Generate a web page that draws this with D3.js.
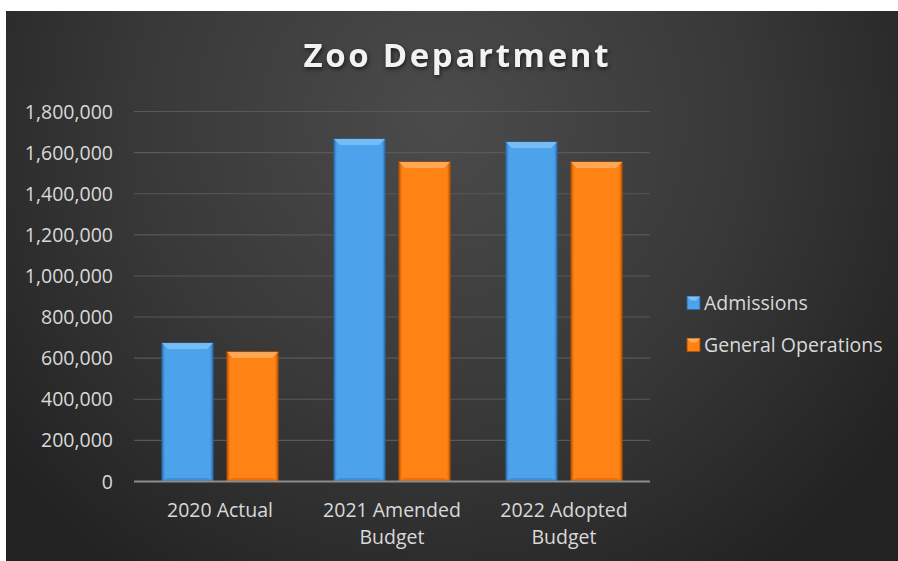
<!DOCTYPE html>
<html>
<head>
<meta charset="utf-8">
<script src="https://cdn.jsdelivr.net/npm/d3@7"></script>
<style>
  html, body { margin: 0; padding: 0; background: #ffffff; }
  svg { display: block; }
</style>
</head>
<body>
<svg id="chart" width="898" height="561"></svg>
<script>
// Budget figures by year and funding line
const categories = [["2020 Actual"], ["2021 Amended", "Budget"], ["2022 Adopted", "Budget"]];
const seriesNames = ["Admissions", "General Operations"];
const admissions = [671000, 1664000, 1649000];
const generalOperations = [628000, 1552000, 1552000];
const yTicks = [0, 200000, 400000, 600000, 800000, 1000000, 1200000, 1400000, 1600000, 1800000];

const W = 898, H = 561;
const svg = d3.select("#chart");
const defs = svg.append("defs");
const FONT = "'Open Sans', sans-serif";

// dark panel with a soft radial glow
const bg = defs.append("radialGradient").attr("id", "bg")
  .attr("gradientUnits", "userSpaceOnUse")
  .attr("cx", 440).attr("cy", 120).attr("r", 560);
bg.append("stop").attr("offset", 0).attr("stop-color", "#4b4b4b");
bg.append("stop").attr("offset", 0.55).attr("stop-color", "#383838");
bg.append("stop").attr("offset", 1).attr("stop-color", "#222222");
svg.append("rect").attr("x", 6).attr("y", 11).attr("width", W - 6).attr("height", H - 11)
  .attr("fill", "url(#bg)");

// bar fills: horizontal shading for a bevelled look
const palettes = [
  { id: "blue", edge: "#2f78bd", mid: "#4da2ec", light: "#7cc0f6", dark: "#2a6aa8" },
  { id: "orange", edge: "#c45a06", mid: "#ff8214", light: "#ffab5c", dark: "#b95200" }
];
palettes.forEach(p => {
  const g = defs.append("linearGradient").attr("id", "fill-" + p.id)
    .attr("x1", 0).attr("x2", 1).attr("y1", 0).attr("y2", 0);
  g.append("stop").attr("offset", 0).attr("stop-color", p.edge);
  g.append("stop").attr("offset", 0.06).attr("stop-color", p.mid);
  g.append("stop").attr("offset", 0.94).attr("stop-color", p.mid);
  g.append("stop").attr("offset", 1).attr("stop-color", p.edge);
});

const plotLeft = 134, plotRight = 650, plotTop = 111, plotBottom = 481;

const x0 = d3.scaleBand().domain(d3.range(categories.length))
  .range([plotLeft, plotRight]).paddingInner(0).paddingOuter(0);
const x1 = d3.scaleBand().domain(d3.range(seriesNames.length))
  .range([0, x0.bandwidth()]).paddingInner(0.215).paddingOuter(0.43);
const y = d3.scaleLinear().domain([0, 1800000]).range([plotBottom, plotTop]);

// gridlines
const grid = svg.append("g").attr("class", "grid")
  .attr("transform", `translate(${plotLeft},0)`)
  .call(d3.axisLeft(y).tickValues(yTicks.slice(1)).tickSize(-(plotRight - plotLeft)).tickFormat(""));
grid.select(".domain").remove();
grid.selectAll("line").attr("stroke", "#595959").attr("stroke-width", 1.1);

// y-axis labels
const yAxis = svg.append("g").attr("transform", `translate(113,0)`)
  .call(d3.axisLeft(y).tickValues(yTicks).tickSize(0).tickPadding(0).tickFormat(d3.format(",")));
yAxis.select(".domain").remove();
yAxis.selectAll("text").attr("fill", "#d9d9d9").attr("font-family", FONT)
  .attr("font-size", "19.5px").attr("dy", "0.36em");

// bars
const series = [admissions, generalOperations];
const barG = svg.append("g");
series.forEach((vals, si) => {
  const p = palettes[si];
  vals.forEach((v, ci) => {
    const bx = x0(ci) + x1(si), bw = x1.bandwidth();
    const by = y(v), bh = y(0) - y(v);
    const g = barG.append("g");
    g.append("rect").attr("x", bx).attr("y", by).attr("width", bw).attr("height", bh)
      .attr("fill", `url(#fill-${p.id})`).attr("stroke", p.dark).attr("stroke-width", 1);
    // lighter top bevel
    const b = 6;
    g.append("path")
      .attr("d", `M${bx},${by} L${bx + bw},${by} L${bx + bw - b},${by + b} L${bx + b},${by + b} Z`)
      .attr("fill", p.light).attr("opacity", 0.9);
    // shaded bottom bevel
    g.append("path")
      .attr("d", `M${bx},${by + bh} L${bx + bw},${by + bh} L${bx + bw - b},${by + bh - 3} L${bx + b},${by + bh - 3} Z`)
      .attr("fill", p.dark).attr("opacity", 0.35);
  });
});

// baseline
svg.append("line").attr("x1", plotLeft).attr("x2", plotRight)
  .attr("y1", y(0) + 0.5).attr("y2", y(0) + 0.5)
  .attr("stroke", "#8c8c8c").attr("stroke-width", 2.2);

// category labels
const catG = svg.append("g");
categories.forEach((lines, ci) => {
  const t = catG.append("text").attr("x", x0(ci) + x0.bandwidth() / 2).attr("y", 517)
    .attr("text-anchor", "middle").attr("fill", "#d9d9d9")
    .attr("font-family", FONT).attr("font-size", "19.5px");
  lines.forEach((ln, li) => {
    t.append("tspan").attr("x", x0(ci) + x0.bandwidth() / 2).attr("dy", li === 0 ? 0 : 27).text(ln);
  });
});

// title
const title = svg.append("text").attr("x", 456).attr("y", 67)
  .attr("text-anchor", "middle").attr("fill", "#f2f2f2")
  .attr("font-family", FONT).attr("font-weight", 700).attr("font-size", "33px")
  .attr("style", "filter: drop-shadow(1px 2px 2px rgba(0,0,0,0.6))")
  .text("Zoo Department");
const natural = title.node().getComputedTextLength();
const nChars = "Zoo Department".length;
const spacing = Math.max(0, (305 - natural) / (nChars - 1));
title.attr("letter-spacing", spacing + "px").attr("x", 456 + spacing / 2);

// legend
const legend = svg.append("g");
seriesNames.forEach((name, i) => {
  const p = palettes[i];
  const ly = 303 + i * 42;
  legend.append("rect").attr("x", 687).attr("y", ly - 6.5).attr("width", 13).attr("height", 13)
    .attr("fill", `url(#fill-${p.id})`).attr("stroke", p.dark).attr("stroke-width", 0.8);
  legend.append("path")
    .attr("d", `M687,${ly - 6.5} L700,${ly - 6.5} L696,${ly - 2.5} L691,${ly - 2.5} Z`)
    .attr("fill", p.light);
  legend.append("text").attr("x", 704).attr("y", ly).attr("dy", "0.36em")
    .attr("fill", "#d9d9d9").attr("font-family", FONT).attr("font-size", "19.5px")
    .text(name);
});
</script>
</body>
</html>
